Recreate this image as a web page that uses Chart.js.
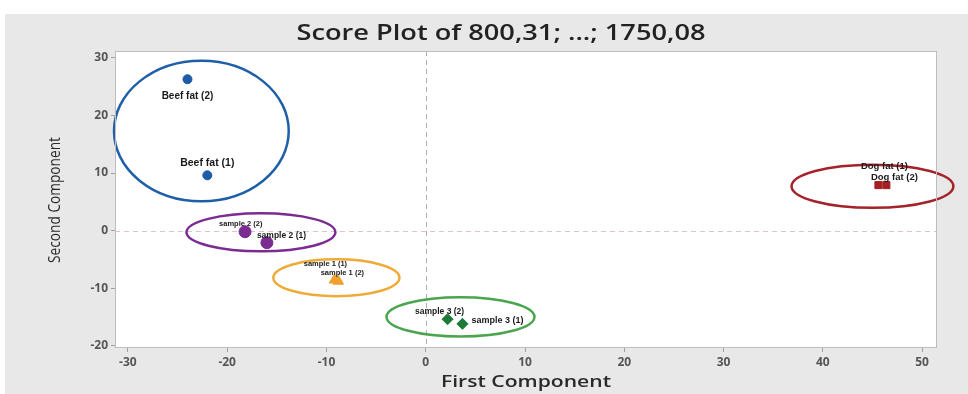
<!DOCTYPE html>
<html>
<head>
<meta charset="utf-8">
<script src="https://cdn.jsdelivr.net/npm/chart.js@4/dist/chart.umd.min.js"></script>
<style>
  html, body { margin: 0; background: #fff; }
  #wrap { width: 968px; height: 394px; }
</style>
</head>
<body>
<div id="wrap"><canvas id="score"></canvas></div>
<script>
// scores (first / second component)
const beefX = [-22.0, -24.0];
const beefY = [9.6, 26.3];
const beefNames = ['Beef fat (1)', 'Beef fat (2)'];

const sample2X = [-16.0, -18.2];
const sample2Y = [-2.1, -0.2];
const sample2Names = ['sample 2 (1)', 'sample 2 (2)'];

const sample1X = [-9.2, -8.8];
const sample1Y = [-8.6, -8.8];
const sample1Names = ['sample 1 (1)', 'sample 1 (2)'];

const sample3X = [3.7, 2.2];
const sample3Y = [-16.2, -15.4];
const sample3Names = ['sample 3 (1)', 'sample 3 (2)'];

const dogX = [45.6, 46.4];
const dogY = [7.9, 7.9];
const dogNames = ['Dog fat (1)', 'Dog fat (2)'];

// group ellipses (centre and half-axes, in score units)
const ellipseCx = [-22.6, -16.6, -9.0, 3.5, 45.0];
const ellipseCy = [17.3, -0.3, -8.2, -15.0, 7.7];
const ellipseRx = [8.8, 7.5, 6.35, 7.45, 8.15];
const ellipseRy = [12.2, 3.3, 3.2, 3.4, 3.75];
const ellipseColors = ['#1f5fa8', '#7b2b92', '#efab38', '#4aa54e', '#a4222a'];

const xTickValues = [-30, -20, -10, 0, 10, 20, 30, 40, 50];
const yTickValues = [-20, -10, 0, 10, 20, 30];

// label placement relative to each point: [dx, dy, align, font]
const beefLabelPos = [[0, -12, 'center', 'bold 10.5px "Liberation Sans"'], [0, 17, 'center', 'bold 10px "Liberation Sans"']];
const sample2LabelPos = [[-10, -7, 'left', 'bold 8.5px "Liberation Sans"'], [-26, -8, 'left', 'bold 7.5px "Liberation Sans"']];
const sample1LabelPos = [[-9, -16, 'center', 'bold 7.5px "Liberation Sans"'], [4, -8, 'center', 'bold 7.5px "Liberation Sans"']];
const sample3LabelPos = [[9, -3, 'left', 'bold 9px "Liberation Sans"'], [-8, -8, 'center', 'bold 8.5px "Liberation Sans"']];
const dogLabelPos = [[6, -19, 'center', 'bold 9.5px "Liberation Sans"'], [8, -8, 'center', 'bold 9.5px "Liberation Sans"']];

function toPoints(xs, ys) {
  return xs.map((x, i) => ({ x: x, y: ys[i] }));
}

// draws text squeezed or stretched horizontally to a given width
function fitText(ctx, text, cx, cy, width) {
  const w = ctx.measureText(text).width;
  ctx.save();
  ctx.translate(cx, cy);
  ctx.scale(width / w, 1);
  ctx.fillText(text, 0, 0);
  ctx.restore();
}

const groups = [
  { xs: beefX, ys: beefY, names: beefNames, pos: beefLabelPos, color: '#1d5ca6', style: 'circle', radius: 4.5 },
  { xs: sample2X, ys: sample2Y, names: sample2Names, pos: sample2LabelPos, color: '#7a2c90', style: 'circle', radius: 6 },
  { xs: sample1X, ys: sample1Y, names: sample1Names, pos: sample1LabelPos, color: '#f0a02c', style: 'triangle', radius: 6 },
  { xs: sample3X, ys: sample3Y, names: sample3Names, pos: sample3LabelPos, color: '#1d7a37', style: 'rectRot', radius: 5.5 },
  { xs: dogX, ys: dogY, names: dogNames, pos: dogLabelPos, color: '#a51e22', style: 'rect', radius: 5 }
];

const backdrop = {
  id: 'backdrop',
  beforeDraw(chart) {
    const ctx = chart.ctx, a = chart.chartArea;
    ctx.save();
    ctx.fillStyle = '#ffffff';
    ctx.fillRect(0, 0, chart.width, chart.height);
    ctx.fillStyle = '#e8e8e8';
    ctx.fillRect(5, 14, chart.width - 5, chart.height - 14);
    ctx.fillStyle = '#ffffff';
    ctx.fillRect(a.left, a.top, a.right - a.left, a.bottom - a.top);
    ctx.restore();
  },
  beforeDatasetsDraw(chart) {
    const ctx = chart.ctx, a = chart.chartArea;
    const xs = chart.scales.x, ys = chart.scales.y;
    ctx.save();
    // zero reference lines
    ctx.setLineDash([5, 4]);
    ctx.lineWidth = 1;
    ctx.strokeStyle = '#b0b0b0';
    const x0 = Math.round(xs.getPixelForValue(0)) + 0.5;
    ctx.beginPath(); ctx.moveTo(x0, a.top); ctx.lineTo(x0, a.bottom); ctx.stroke();
    ctx.strokeStyle = '#dcc4cc';
    const y0 = Math.round(ys.getPixelForValue(0)) + 0.5;
    ctx.beginPath(); ctx.moveTo(a.left, y0); ctx.lineTo(a.right, y0); ctx.stroke();
    ctx.setLineDash([]);
    // group ellipses
    ctx.lineWidth = 2.5;
    ellipseCx.forEach((cx, i) => {
      const px = xs.getPixelForValue(cx), py = ys.getPixelForValue(ellipseCy[i]);
      const rx = Math.abs(xs.getPixelForValue(cx + ellipseRx[i]) - px);
      const ry = Math.abs(ys.getPixelForValue(ellipseCy[i] + ellipseRy[i]) - py);
      ctx.strokeStyle = ellipseColors[i];
      ctx.beginPath();
      ctx.ellipse(px, py, rx, ry, 0, 0, Math.PI * 2);
      ctx.stroke();
    });
    ctx.restore();
  },
  afterDraw(chart) {
    const ctx = chart.ctx, a = chart.chartArea;
    const xs = chart.scales.x, ys = chart.scales.y;
    ctx.save();
    ctx.strokeStyle = '#bdbdbd';
    ctx.lineWidth = 1;
    ctx.strokeRect(a.left + 0.5, a.top + 0.5, a.right - a.left - 1, a.bottom - a.top - 1);

    // point labels
    ctx.fillStyle = '#1a1a1a';
    ctx.textBaseline = 'middle';
    groups.forEach(g => {
      g.names.forEach((name, i) => {
        const p = g.pos[i];
        ctx.font = p[3];
        ctx.textAlign = p[2];
        ctx.fillText(name, xs.getPixelForValue(g.xs[i]) + p[0], ys.getPixelForValue(g.ys[i]) + p[1]);
      });
    });

    // title and axis titles
    ctx.fillStyle = '#222';
    ctx.textAlign = 'center';
    ctx.font = '600 21px "Open Sans"';
    fitText(ctx, 'Score Plot of 800,31; ...; 1750,08', 501, 34, 409);
    ctx.font = '600 17px "Open Sans"';
    ctx.fillStyle = '#2a2a2a';
    fitText(ctx, 'First Component', (a.left + a.right) / 2, 382, 170);
    ctx.translate(55, 200);
    ctx.rotate(-Math.PI / 2);
    ctx.font = '16px "Open Sans"';
    fitText(ctx, 'Second Component', 0, 0, 126);
    ctx.restore();
  }
};

const tickFont = { family: 'Open Sans', size: 12, weight: 'bold' };

new Chart(document.getElementById('score'), {
  type: 'scatter',
  data: {
    datasets: groups.map(g => ({
      data: toPoints(g.xs, g.ys),
      backgroundColor: g.color,
      borderColor: g.color,
      pointStyle: g.style,
      pointRadius: g.radius,
      pointHoverRadius: g.radius,
      borderWidth: 1
    }))
  },
  options: {
    responsive: true,
    maintainAspectRatio: false,
    animation: false,
    layout: { padding: { left: 0, top: 51, right: 31, bottom: 0 } },
    plugins: {
      legend: { display: false },
      tooltip: { enabled: false },
      title: { display: false }
    },
    scales: {
      x: {
        type: 'linear',
        min: -31.3,
        max: 51.5,
        afterFit: s => { s.height = 46; },
        afterBuildTicks: s => { s.ticks = xTickValues.map(v => ({ value: v })); },
        grid: { drawOnChartArea: false, drawTicks: true, tickLength: 4, color: '#a0a0a0' },
        border: { display: false },
        ticks: { color: '#555', font: tickFont, padding: 3 }
      },
      y: {
        type: 'linear',
        min: -20.4,
        max: 31.2,
        afterFit: s => { s.width = 115; },
        afterBuildTicks: s => { s.ticks = yTickValues.map(v => ({ value: v })); },
        grid: { drawOnChartArea: false, drawTicks: true, tickLength: 4, color: '#a0a0a0' },
        border: { display: false },
        ticks: { color: '#555', font: tickFont, padding: 3 }
      }
    }
  },
  plugins: [backdrop]
});
</script>
</body>
</html>
